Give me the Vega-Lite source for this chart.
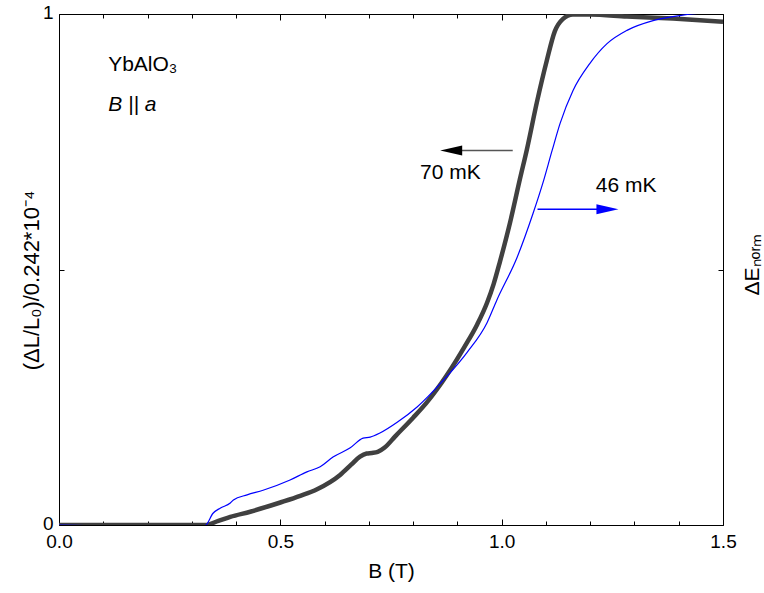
{
  "$schema": "https://vega.github.io/schema/vega-lite/v6.json",
  "width": 664,
  "height": 511,
  "autosize": {"type": "none"},
  "padding": {"left": 59, "top": 14, "right": 41, "bottom": 68},
  "background": "white",
  "config": {
    "font": "Liberation Sans",
    "view": {"stroke": "black", "strokeWidth": 1},
    "axis": {
      "grid": false,
      "domain": false,
      "labelFlush": false,
      "tickColor": "black",
      "labelColor": "black",
      "titleColor": "black",
      "labelFont": "Liberation Sans",
      "titleFont": "Liberation Sans",
      "labelFontSize": 19,
      "titleFontSize": 21,
      "titleFontWeight": "normal"
    }
  },
  "datasets": {
    "curves": [
      {"B": 0.0, "v": 0.0, "s": "70 mK"},
      {"B": 0.1, "v": 0.0, "s": "70 mK"},
      {"B": 0.2, "v": 0.0, "s": "70 mK"},
      {"B": 0.3, "v": 0.0, "s": "70 mK"},
      {"B": 0.33, "v": 0.0, "s": "70 mK"},
      {"B": 0.36, "v": 0.008, "s": "70 mK"},
      {"B": 0.387, "v": 0.016, "s": "70 mK"},
      {"B": 0.432, "v": 0.026, "s": "70 mK"},
      {"B": 0.5, "v": 0.044, "s": "70 mK"},
      {"B": 0.545, "v": 0.057, "s": "70 mK"},
      {"B": 0.583, "v": 0.07, "s": "70 mK"},
      {"B": 0.635, "v": 0.098, "s": "70 mK"},
      {"B": 0.66, "v": 0.118, "s": "70 mK"},
      {"B": 0.68, "v": 0.134, "s": "70 mK"},
      {"B": 0.695, "v": 0.14, "s": "70 mK"},
      {"B": 0.707, "v": 0.141, "s": "70 mK"},
      {"B": 0.72, "v": 0.143, "s": "70 mK"},
      {"B": 0.735, "v": 0.151, "s": "70 mK"},
      {"B": 0.76, "v": 0.174, "s": "70 mK"},
      {"B": 0.8, "v": 0.21, "s": "70 mK"},
      {"B": 0.831, "v": 0.24, "s": "70 mK"},
      {"B": 0.876, "v": 0.293, "s": "70 mK"},
      {"B": 0.917, "v": 0.35, "s": "70 mK"},
      {"B": 0.945, "v": 0.393, "s": "70 mK"},
      {"B": 0.967, "v": 0.435, "s": "70 mK"},
      {"B": 0.982, "v": 0.472, "s": "70 mK"},
      {"B": 0.996, "v": 0.515, "s": "70 mK"},
      {"B": 1.019, "v": 0.592, "s": "70 mK"},
      {"B": 1.041, "v": 0.676, "s": "70 mK"},
      {"B": 1.057, "v": 0.735, "s": "70 mK"},
      {"B": 1.08, "v": 0.829, "s": "70 mK"},
      {"B": 1.102, "v": 0.909, "s": "70 mK"},
      {"B": 1.12, "v": 0.966, "s": "70 mK"},
      {"B": 1.138, "v": 0.99, "s": "70 mK"},
      {"B": 1.161, "v": 0.999, "s": "70 mK"},
      {"B": 1.2, "v": 0.999, "s": "70 mK"},
      {"B": 1.283, "v": 0.995, "s": "70 mK"},
      {"B": 1.387, "v": 0.991, "s": "70 mK"},
      {"B": 1.5, "v": 0.985, "s": "70 mK"},
      {"B": 0.0, "v": 0.0, "s": "46 mK"},
      {"B": 0.1, "v": -0.001, "s": "46 mK"},
      {"B": 0.2, "v": -0.001, "s": "46 mK"},
      {"B": 0.3, "v": -0.002, "s": "46 mK"},
      {"B": 0.33, "v": -0.001, "s": "46 mK"},
      {"B": 0.348, "v": 0.023, "s": "46 mK"},
      {"B": 0.364, "v": 0.033, "s": "46 mK"},
      {"B": 0.387, "v": 0.043, "s": "46 mK"},
      {"B": 0.394, "v": 0.049, "s": "46 mK"},
      {"B": 0.425, "v": 0.059, "s": "46 mK"},
      {"B": 0.461, "v": 0.068, "s": "46 mK"},
      {"B": 0.522, "v": 0.088, "s": "46 mK"},
      {"B": 0.56, "v": 0.104, "s": "46 mK"},
      {"B": 0.59, "v": 0.114, "s": "46 mK"},
      {"B": 0.619, "v": 0.133, "s": "46 mK"},
      {"B": 0.658, "v": 0.151, "s": "46 mK"},
      {"B": 0.687, "v": 0.17, "s": "46 mK"},
      {"B": 0.703, "v": 0.172, "s": "46 mK"},
      {"B": 0.725, "v": 0.18, "s": "46 mK"},
      {"B": 0.764, "v": 0.201, "s": "46 mK"},
      {"B": 0.809, "v": 0.231, "s": "46 mK"},
      {"B": 0.868, "v": 0.283, "s": "46 mK"},
      {"B": 0.922, "v": 0.338, "s": "46 mK"},
      {"B": 0.967, "v": 0.396, "s": "46 mK"},
      {"B": 0.989, "v": 0.44, "s": "46 mK"},
      {"B": 1.035, "v": 0.524, "s": "46 mK"},
      {"B": 1.071, "v": 0.61, "s": "46 mK"},
      {"B": 1.093, "v": 0.669, "s": "46 mK"},
      {"B": 1.114, "v": 0.733, "s": "46 mK"},
      {"B": 1.132, "v": 0.786, "s": "46 mK"},
      {"B": 1.161, "v": 0.85, "s": "46 mK"},
      {"B": 1.199, "v": 0.903, "s": "46 mK"},
      {"B": 1.238, "v": 0.942, "s": "46 mK"},
      {"B": 1.283, "v": 0.968, "s": "46 mK"},
      {"B": 1.342, "v": 0.987, "s": "46 mK"},
      {"B": 1.402, "v": 0.997, "s": "46 mK"},
      {"B": 1.441, "v": 1.001, "s": "46 mK"},
      {"B": 1.5, "v": 1.003, "s": "46 mK"}
    ],
    "labels": [
      {"B": 0.111, "v": 0.9, "t": "YbAlO₃", "kind": "sample"},
      {"B": 0.111, "v": 0.822, "t": "B || a", "kind": "field"},
      {"B": 0.884, "v": 0.688, "t": "70 mK", "kind": "temp"},
      {"B": 1.281, "v": 0.663, "t": "46 mK", "kind": "temp"}
    ],
    "arrows": [
      {"x1": 1.025, "x2": 0.905, "v": 0.733, "hx": 0.886, "s": "70 mK"},
      {"x1": 1.081, "x2": 1.22, "v": 0.618, "hx": 1.239, "s": "46 mK"}
    ]
  },
  "layer": [
    {
      "data": {"name": "curves"},
      "transform": [{"filter": "datum.s == '70 mK'"}],
      "mark": {"type": "line", "color": "#404040", "strokeWidth": 4.5, "clip": true, "interpolate": "monotone", "strokeJoin": "round"},
      "encoding": {
        "x": {
          "field": "B", "type": "quantitative",
          "scale": {"domain": [0, 1.5], "nice": false, "zero": false},
          "axis": {
            "orient": "bottom",
            "title": "B (T)",
            "values": [0, 0.1, 0.2, 0.3, 0.4, 0.5, 0.6, 0.7, 0.8, 0.9, 1.0, 1.1, 1.2, 1.3, 1.4, 1.5],
            "labelExpr": "abs(datum.value*2 - round(datum.value*2)) < 0.001 ? format(datum.value, '.1f') : ''",
            "tickSize": {"condition": {"test": "abs(datum.value*2 - round(datum.value*2)) < 0.001", "value": -6}, "value": -4},
            "labelPadding": 13,
            "titlePadding": 9
          }
        },
        "y": {
          "field": "v", "type": "quantitative",
          "scale": {"domain": [0, 1], "nice": false, "zero": false},
          "axis": {
            "orient": "left",
            "title": "(ΔL/L₀)/0.242*10⁻⁴",
            "titleFontSize": 22,
            "values": [0, 0.5, 1],
            "labelExpr": "datum.value == 0.5 ? '' : format(datum.value, 'd')",
            "tickSize": -5,
            "labelPadding": 11,
            "labelOffset": -2,
            "titleX": -28,
            "titleY": 266,
            "titleBaseline": "middle",
            "titleAngle": -90
          }
        }
      }
    },
    {
      "data": {"name": "curves"},
      "transform": [{"filter": "datum.s == '46 mK'"}],
      "mark": {"type": "line", "color": "#0000ff", "strokeWidth": 1.2, "clip": true, "interpolate": "monotone"},
      "encoding": {
        "x": {"field": "B", "type": "quantitative", "scale": {"domain": [0, 1.5], "nice": false, "zero": false}, "axis": null},
        "y": {"field": "v", "type": "quantitative", "scale": {"domain": [0, 1], "nice": false, "zero": false}, "axis": null}
      }
    },
    {
      "data": {"name": "arrows"},
      "mark": {"type": "rule", "strokeWidth": 1.5},
      "encoding": {
        "x": {
          "field": "x1", "type": "quantitative",
          "scale": {"domain": [0, 1.5], "nice": false, "zero": false},
          "axis": {
            "orient": "top",
            "title": null,
            "labels": false,
            "values": [0, 0.1, 0.2, 0.3, 0.4, 0.5, 0.6, 0.7, 0.8, 0.9, 1.0, 1.1, 1.2, 1.3, 1.4, 1.5],
            "tickSize": {"condition": {"test": "abs(datum.value*2 - round(datum.value*2)) < 0.001", "value": -6}, "value": -4}
          }
        },
        "x2": {"field": "x2"},
        "y": {
          "field": "v", "type": "quantitative",
          "scale": {"domain": [0, 1], "nice": false, "zero": false},
          "axis": {
            "orient": "right",
            "title": "ΔEₙₒᵣₘ",
            "labels": false,
            "values": [0, 0.5, 1],
            "tickSize": -5,
            "titleX": 29,
            "titleY": 250,
            "titleBaseline": "middle",
            "titleAngle": -90
          }
        },
        "color": {"field": "s", "type": "nominal", "scale": {"domain": ["70 mK", "46 mK"], "range": ["#555555", "#0000ff"]}, "legend": null}
      }
    },
    {
      "data": {"name": "arrows"},
      "mark": {"type": "point", "filled": true, "opacity": 1, "strokeWidth": 0},
      "encoding": {
        "x": {"field": "hx", "type": "quantitative", "scale": {"domain": [0, 1.5], "nice": false, "zero": false}, "axis": null},
        "y": {"field": "v", "type": "quantitative", "scale": {"domain": [0, 1], "nice": false, "zero": false}, "axis": null},
        "shape": {"field": "s", "type": "nominal", "scale": {"domain": ["70 mK", "46 mK"], "range": ["M -1 0 L 1 -0.45 L 1 0.45 Z", "M 1 0 L -1 -0.45 L -1 0.45 Z"]}, "legend": null},
        "size": {"value": 484},
        "color": {"field": "s", "type": "nominal", "scale": {"domain": ["70 mK", "46 mK"], "range": ["#000000", "#0000ff"]}, "legend": null}
      }
    },
    {
      "data": {"name": "labels"},
      "transform": [{"filter": "datum.kind == 'sample'"}],
      "mark": {"type": "text", "fontSize": 21, "baseline": "middle", "align": "left", "color": "black", "font": "Liberation Sans"},
      "encoding": {
        "x": {"field": "B", "type": "quantitative", "scale": {"domain": [0, 1.5], "nice": false, "zero": false}, "axis": null},
        "y": {"field": "v", "type": "quantitative", "scale": {"domain": [0, 1], "nice": false, "zero": false}, "axis": null},
        "text": {"field": "t"}
      }
    },
    {
      "data": {"name": "labels"},
      "transform": [{"filter": "datum.kind == 'field'"}],
      "mark": {"type": "text", "fontSize": 21, "baseline": "middle", "align": "left", "fontStyle": "italic", "color": "black", "font": "Liberation Sans"},
      "encoding": {
        "x": {"field": "B", "type": "quantitative", "scale": {"domain": [0, 1.5], "nice": false, "zero": false}, "axis": null},
        "y": {"field": "v", "type": "quantitative", "scale": {"domain": [0, 1], "nice": false, "zero": false}, "axis": null},
        "text": {"field": "t"}
      }
    },
    {
      "data": {"name": "labels"},
      "transform": [{"filter": "datum.kind == 'temp'"}],
      "mark": {"type": "text", "fontSize": 21, "baseline": "middle", "align": "center", "color": "black", "font": "Liberation Sans"},
      "encoding": {
        "x": {"field": "B", "type": "quantitative", "scale": {"domain": [0, 1.5], "nice": false, "zero": false}, "axis": null},
        "y": {"field": "v", "type": "quantitative", "scale": {"domain": [0, 1], "nice": false, "zero": false}, "axis": null},
        "text": {"field": "t"}
      }
    }
  ],
  "resolve": {"axis": {"x": "independent", "y": "independent"}, "scale": {"color": "independent", "shape": "independent"}}
}
